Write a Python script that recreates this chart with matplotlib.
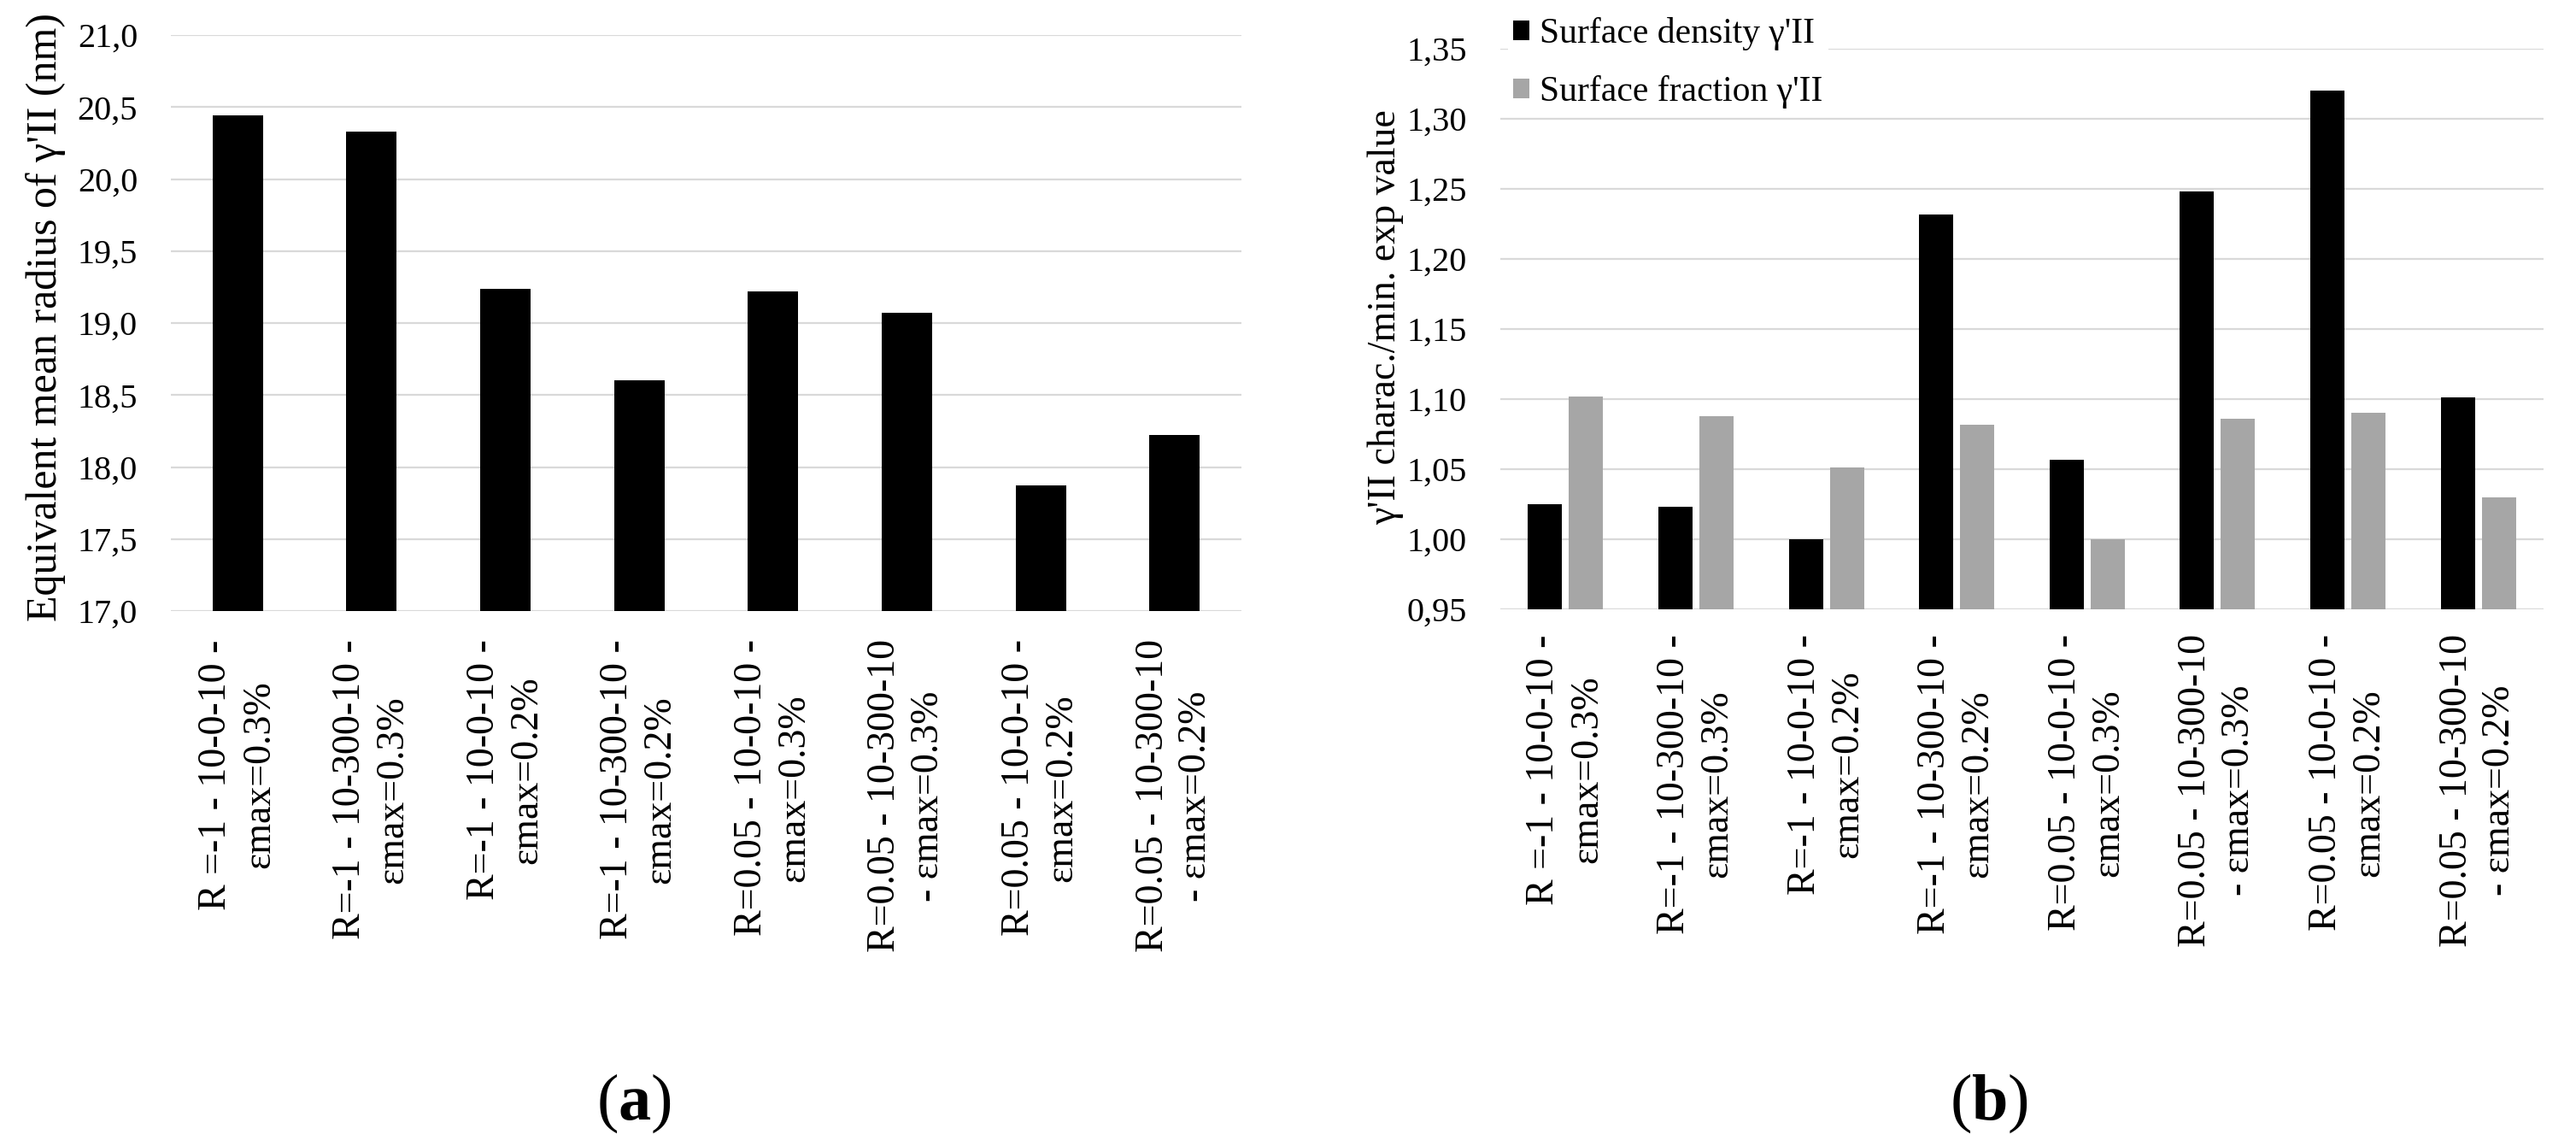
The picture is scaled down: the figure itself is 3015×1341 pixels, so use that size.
import numpy as np
import matplotlib.pyplot as plt
from matplotlib.ticker import FuncFormatter

plt.rcParams['font.family'] = ['Liberation Serif', 'DejaVu Serif']
plt.rcParams['mathtext.fontset'] = 'custom'
plt.rcParams['mathtext.rm'] = 'Liberation Serif'
plt.rcParams['mathtext.bf'] = 'Liberation Serif:bold'

# data
labels = ["R =-1 - 10-0-10 -\nεmax=0.3%",
          "R=-1 - 10-300-10 -\nεmax=0.3%",
          "R=-1 - 10-0-10 -\nεmax=0.2%",
          "R=-1 - 10-300-10 -\nεmax=0.2%",
          "R=0.05 - 10-0-10 -\nεmax=0.3%",
          "R=0.05 - 10-300-10\n- εmax=0.3%",
          "R=0.05 - 10-0-10 -\nεmax=0.2%",
          "R=0.05 - 10-300-10\n- εmax=0.2%"]
radius = [20.44, 20.33, 19.24, 18.60, 19.22, 19.07, 17.87, 18.22]
density = [1.025, 1.023, 1.000, 1.232, 1.057, 1.248, 1.320, 1.101]
fraction = [1.102, 1.088, 1.051, 1.082, 1.000, 1.086, 1.090, 1.030]

W, H = 3015, 1341
fig = plt.figure(figsize=(W/100, H/100), dpi=100)
ax1 = fig.add_axes([200/W, 1-715/H, 1253/W, 674/H])
ax2 = fig.add_axes([1756/W, 1-713/H, 1221/W, 656/H])

x = np.arange(len(labels))
grid_col = '#d9d9d9'

# (a) mean radius
ax1.bar(x, radius, width=0.377, color='black', zorder=3)
ax1.set_ylim(17, 21)
ax1.set_yticks(np.arange(17, 21.01, 0.5))
ax1.yaxis.set_major_formatter(FuncFormatter(lambda v, p: f'{v:.1f}'.replace('.', ',')))
ax1.set_ylabel("Equivalent mean radius of γ'II (nm)", fontsize=36)
ax1.yaxis.set_label_coords(-0.098, 0.51)

# (b) density / fraction
ax2.bar(x - 0.157, density, width=0.262, color='black', zorder=3, label="Surface density γ'II")
ax2.bar(x + 0.157, fraction, width=0.262, color='#a6a6a6', zorder=3, label="Surface fraction γ'II")
ax2.set_ylim(0.95, 1.35)
ax2.set_yticks(np.arange(0.95, 1.3501, 0.05))
ax2.yaxis.set_major_formatter(FuncFormatter(lambda v, p: f'{v:.2f}'.replace('.', ',')))
ax2.set_ylabel("γ'II charac./min. exp value", fontsize=33)
ax2.yaxis.set_label_coords(-0.0925, 0.521)

for ax, pad in [(ax1, 24), (ax2, 21)]:
    ax.set_xlim(-0.5, 7.5)
    ax.grid(axis='y', color=grid_col, lw=1.6)
    ax.set_axisbelow(True)
    for s in ax.spines.values():
        s.set_visible(False)
    ax.set_xticks(x)
    ax.set_xticklabels(labels, rotation=90, fontsize=33, linespacing=1.25,
                       multialignment='center')
    ax.tick_params(axis='x', length=0, pad=pad)
    ax.tick_params(axis='y', length=0, labelsize=29, pad=28)

leg = ax2.legend(loc='upper left', bbox_to_anchor=(1765/W, 1-14/H),
                 bbox_transform=fig.transFigure, fontsize=30, frameon=True,
                 facecolor='white', edgecolor='none', framealpha=1,
                 handlelength=0.45, handleheight=0.45, handletextpad=0.3,
                 labelspacing=0.7, borderpad=0.15, borderaxespad=0)

fig.text(0.246, 0.037, r"($\mathbf{a}$)", fontsize=55, ha='center', va='center')
fig.text(0.772, 0.037, r"($\mathbf{b}$)", fontsize=55, ha='center', va='center')

plt.savefig('out.png', dpi=100)
